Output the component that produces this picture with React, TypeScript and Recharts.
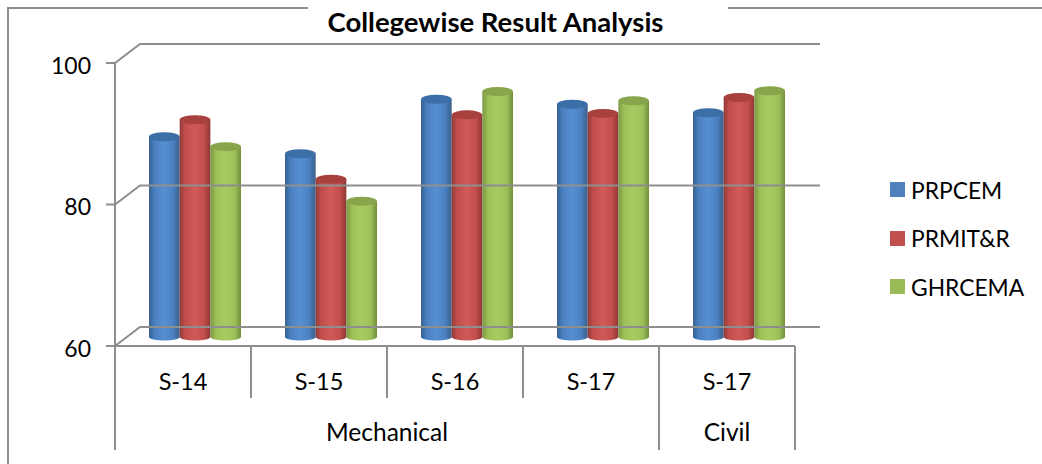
import React from 'react';
import { BarChart, Bar, XAxis, YAxis, Legend } from 'recharts';

const semesters = ['S-14', 'S-15', 'S-16', 'S-17', 'S-17'];
const groups = [
  { label: 'Mechanical', span: 4 },
  { label: 'Civil', span: 1 },
];
const prpcem = [88.3, 85.9, 93.6, 92.9, 91.7];
const prmit = [90.7, 82.3, 91.4, 91.6, 93.85];
const ghrcema = [86.9, 79.2, 94.7, 93.4, 94.8];
const yTicks = [60, 80, 100];

const data = semesters.map((name, i) => ({ name, prpcem: prpcem[i], prmit: prmit[i], ghrcema: ghrcema[i] }));

const W = 1042;
const H = 464;
const LEFT = 115;
const RIGHT = 795;
const TOP = 63;
const BOTTOM = 346;
const DEPTH_X = 25;
const DEPTH_Y = 19;
const BAND = (RIGHT - LEFT) / semesters.length;
const BAR = 30.67;
const LINE = '#8e8e8e';
const FONT = 'Lato, sans-serif';

const YTick = ({ y, payload }: any) => (
  <g>
    <text x={91} y={y + 10.5} fontSize={23} textAnchor="end" fontFamily={FONT} fill="#000">{payload.value}</text>
    <path d={`M${LEFT - 9} ${y}H${LEFT}L${LEFT + DEPTH_X} ${y - DEPTH_Y}H${RIGHT + DEPTH_X}`} fill="none" stroke={LINE} strokeWidth={2} />
  </g>
);

const XTick = ({ x, payload, index }: any) => {
  const left = x - BAND / 2;
  let start = 0;
  const group = groups.find((g) => {
    const hit = start === index;
    start += g.span;
    return hit;
  });
  const last = index === semesters.length - 1;
  return (
    <g fontFamily={FONT} fontSize={24} fill="#000">
      <text x={x} y={390} textAnchor="middle" fontSize={23.5}>{payload.value}</text>
      <line x1={left} x2={left} y1={BOTTOM} y2={group ? 450 : 398} stroke={LINE} strokeWidth={2} />
      {last && <line x1={left + BAND} x2={left + BAND} y1={BOTTOM} y2={450} stroke={LINE} strokeWidth={2} />}
      {group && (
        <text x={left + (group.span * BAND) / 2} y={441} textAnchor="middle" fontSize={24.5}>{group.label}</text>
      )}
    </g>
  );
};

// rounded cylinder, pushed back to the middle of the floor
const Cylinder = ({ x, y, width, height, gradient, cap }: any) => {
  const rx = width / 2;
  const ry = 4.5;
  const left = x + 12;
  const top = y - 9;
  const base = top + height;
  return (
    <g>
      <path
        d={`M${left} ${top}V${base}A${rx} ${ry - 1} 0 0 0 ${left + width} ${base}V${top}Z`}
        fill={`url(#${gradient})`}
      />
      <ellipse cx={left + rx} cy={top} rx={rx} ry={ry} fill={cap} />
    </g>
  );
};

const LegendBox = ({ payload }: any) => (
  <div>
    {payload.map((item: any, i: number) => (
      <div
        key={item.value}
        style={{ position: 'absolute', left: 890, top: 174.5 + i * 48.5, display: 'flex', alignItems: 'center', height: 30, fontFamily: FONT, fontSize: 22.8, color: '#000', whiteSpace: 'nowrap' }}
      >
        <span style={{ width: 15, height: 15, background: item.color, marginRight: 6 }} />
        {item.value}
      </div>
    ))}
  </div>
);

const shade = (id: string, edge: string, mid: string, light: string, dark: string) => (
  <linearGradient id={id} x1="0" x2="1" y1="0" y2="0">
    <stop offset="0" stopColor={edge} />
    <stop offset="0.18" stopColor={mid} />
    <stop offset="0.5" stopColor={light} />
    <stop offset="0.8" stopColor={mid} />
    <stop offset="1" stopColor={dark} />
  </linearGradient>
);

export default function App() {
  return (
    <div style={{ position: 'absolute', left: 0, top: 0, width: W, height: H }}>
      <BarChart
        width={W}
        height={H}
        data={data}
        margin={{ top: TOP, left: LEFT - 60, right: W - RIGHT, bottom: H - BOTTOM - 60 }}
        barCategoryGap={22}
        barGap={0}
      >
        <defs>
          {shade('cylBlue', '#36608f', '#4a80c0', '#5690d2', '#3a5e88')}
          {shade('cylRed', '#8e3a37', '#c24e4b', '#cf5a57', '#883835')}
          {shade('cylGreen', '#7d9844', '#9cc057', '#a8ca62', '#728d3d')}
        </defs>
        <path d={`M8 464V8H308M728 8H${W}`} fill="none" stroke={LINE} strokeWidth={2} />
        <text x={495.5} y={32} textAnchor="middle" fontFamily={FONT} fontWeight={700} fontSize={27.5} fill="#000">
          Collegewise Result Analysis
        </text>
        <YAxis
          domain={[60, 100]}
          ticks={yTicks}
          width={60}
          tickLine={false}
          axisLine={{ stroke: LINE, strokeWidth: 2 }}
          tick={YTick}
          interval={0}
        />
        <XAxis
          dataKey="name"
          height={60}
          tickLine={false}
          axisLine={{ stroke: LINE, strokeWidth: 2 }}
          tick={XTick}
          interval={0}
        />
        <Legend content={LegendBox} itemSorter={null} wrapperStyle={{ left: 0, top: 0, bottom: 'auto', width: W, height: 0 }} />
        <Bar dataKey="prpcem" name="PRPCEM" fill="#4f81bd" barSize={BAR} isAnimationActive={false} shape={(p: any) => <Cylinder {...p} gradient="cylBlue" cap="#3c6ea8" />} />
        <Bar dataKey="prmit" name="PRMIT&R" fill="#c0504d" barSize={BAR} isAnimationActive={false} shape={(p: any) => <Cylinder {...p} gradient="cylRed" cap="#a8413e" />} />
        <Bar dataKey="ghrcema" name="GHRCEMA" fill="#9bbb59" barSize={BAR} isAnimationActive={false} shape={(p: any) => <Cylinder {...p} gradient="cylGreen" cap="#88a54b" />} />
      </BarChart>
    </div>
  );
}
